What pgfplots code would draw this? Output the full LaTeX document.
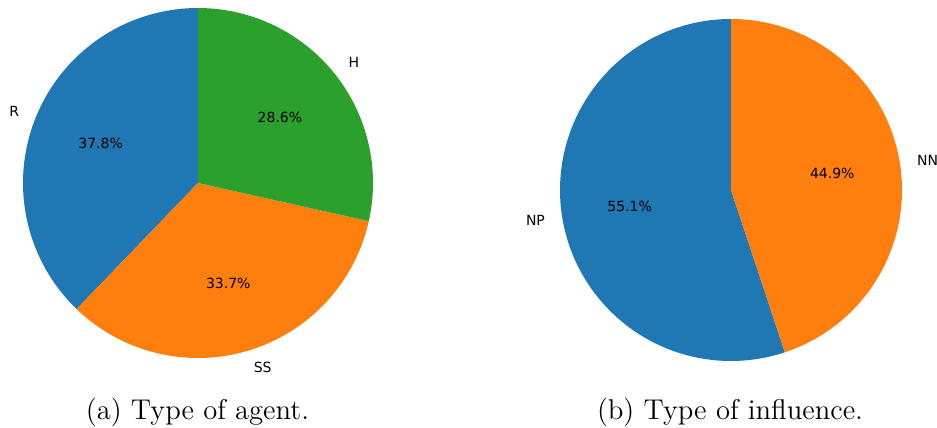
\documentclass[border=0pt]{standalone}
\usepackage{fontspec}
\usepackage{pgfplots}
\pgfplotsset{compat=1.18}
\newfontfamily\dejavu{DejaVu Sans}
\definecolor{c0}{HTML}{1F77B4}
\definecolor{c1}{HTML}{FF7F0E}
\definecolor{c2}{HTML}{2CA02C}
\begin{document}
\begin{tikzpicture}
\tikzset{lab/.style={inner sep=0pt, font=\dejavu\fontsize{7}{8}\selectfont}}
% ---------- (a) Type of agent: R 37.8, SS 33.7, H 28.6 ----------
\begin{axis}[at={(99pt,122.5pt)}, anchor=center, hide axis, scale only axis,
  width=175pt, height=175pt, xmin=-1, xmax=1, ymin=-1, ymax=1, clip=false]
\addplot[fill=c0, draw=none, domain=90:{90+3.6*37.8}, samples=150, variable=\t]
  ({cos(t)},{sin(t)}) -- (axis cs:0,0);
\addplot[fill=c1, draw=none, domain={90+3.6*37.8}:{90+3.6*(37.8+33.7)}, samples=150, variable=\t]
  ({cos(t)},{sin(t)}) -- (axis cs:0,0);
\addplot[fill=c2, draw=none, domain={90+3.6*(37.8+33.7)}:450, samples=150, variable=\t]
  ({cos(t)},{sin(t)}) -- (axis cs:0,0);
\node[lab, anchor=east] at (axis cs:-1.0203,0.4114) {R};
\node[lab, anchor=west] at (axis cs:0.3168,-1.0534) {SS};
\node[lab, anchor=west] at (axis cs:0.8585,0.6877) {H};
\node[lab] at (axis cs:-0.5565,0.2244) {37.8\%};
\node[lab] at (axis cs:0.1728,-0.5746) {33.7\%};
\node[lab] at (axis cs:0.4682,0.3751) {28.6\%};
\end{axis}
% ---------- (b) Type of influence: NP 55.1, NN 44.9 ----------
\begin{axis}[at={(365.5pt,119pt)}, anchor=center, hide axis, scale only axis,
  width=171pt, height=171pt, xmin=-1, xmax=1, ymin=-1, ymax=1, clip=false]
\addplot[fill=c0, draw=none, domain=90:{90+3.6*55.1}, samples=200, variable=\t]
  ({cos(t)},{sin(t)}) -- (axis cs:0,0);
\addplot[fill=c1, draw=none, domain={90+3.6*55.1}:450, samples=150, variable=\t]
  ({cos(t)},{sin(t)}) -- (axis cs:0,0);
\node[lab, anchor=east] at (axis cs:-1.0859,-0.1755) {NP};
\node[lab, anchor=west] at (axis cs:1.0859,0.1755) {NN};
\node[lab] at (axis cs:-0.5923,-0.0957) {55.1\%};
\node[lab] at (axis cs:0.5923,0.0957) {44.9\%};
\end{axis}
% ---------- captions ----------
\node[anchor=base, inner sep=0pt, font=\fontsize{14.3}{17}\selectfont] at (98.75pt,4pt) {(a) Type of agent.};
\node[anchor=base, inner sep=0pt, font=\fontsize{14.3}{17}\selectfont] at (365pt,4pt) {(b) Type of influence.};
\pgfresetboundingbox
\path[use as bounding box] (0,0) rectangle (468.5pt,214pt);
\end{tikzpicture}
\end{document}
